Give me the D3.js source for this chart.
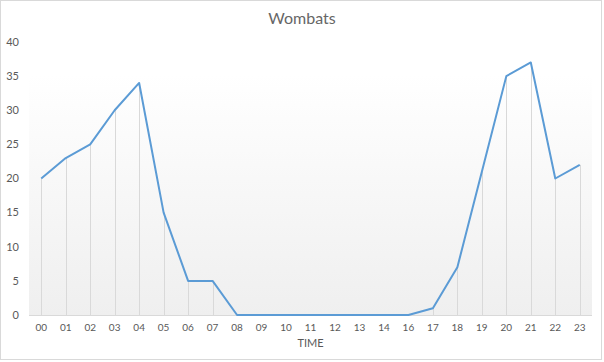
<!DOCTYPE html>
<html>
<head>
<meta charset="utf-8">
<script src="https://cdn.jsdelivr.net/npm/d3@7"></script>
<style>
    html, body { margin: 0; padding: 0; background: #fff; }
    svg { display: block; font-family: Lato, "Open Sans", sans-serif; }
</style>
</head>
<body>
<div id="chart"></div>
<script>
// Data (hour 15 is missing in the source)
const hours = ["00","01","02","03","04","05","06","07","08","09","10","11","12","13","14","16","17","18","19","20","21","22","23"];
const wombats = [20, 23, 25, 30, 34, 15, 5, 5, 0, 0, 0, 0, 0, 0, 0, 0, 1, 7, 21, 35, 37, 20, 22];
const yTicks = [0, 5, 10, 15, 20, 25, 30, 35, 40];

const width = 604;
const height = 362;
const plot = { left: 29, right: 592, top: 42, bottom: 315 };

const svg = d3.select('#chart')
    .append('svg')
    .attr('width', width)
    .attr('height', height);

// chart border
svg.append('rect')
    .attr('x', 0.5).attr('y', 0.5)
    .attr('width', 601).attr('height', 359)
    .attr('fill', '#fff')
    .attr('stroke', '#d9d9d9');

const grad = svg.append('defs').append('linearGradient')
    .attr('id', 'plotGrad')
    .attr('x1', 0).attr('y1', 0).attr('x2', 0).attr('y2', 1);
grad.append('stop').attr('offset', '0%').attr('stop-color', '#ffffff');
grad.append('stop').attr('offset', '100%').attr('stop-color', '#efefef');

svg.append('rect')
    .attr('x', plot.left).attr('y', 74)
    .attr('width', plot.right - plot.left)
    .attr('height', plot.bottom - 74)
    .attr('fill', 'url(#plotGrad)');

const x = d3.scaleBand()
    .domain(hours)
    .range([plot.left, plot.right])
    .padding(0);

const y = d3.scaleLinear()
    .domain([0, 40])
    .range([plot.bottom, plot.top]);

const cx = d => x(d) + x.bandwidth() / 2;

// title
svg.append('text')
    .attr('x', 302).attr('y', 24)
    .attr('text-anchor', 'middle')
    .attr('font-size', '16px')
    .attr('fill', '#666')
    .text('Wombats');

// drop lines
svg.append('g')
    .selectAll('line')
    .data(hours)
    .enter()
    .append('line')
    .attr('x1', d => Math.round(cx(d)) + 0.5)
    .attr('x2', d => Math.round(cx(d)) + 0.5)
    .attr('y1', (d, i) => y(wombats[i]))
    .attr('y2', plot.bottom)
    .attr('stroke', '#d9d9d9')
    .attr('stroke-width', 1);

// baseline
svg.append('line')
    .attr('x1', plot.left).attr('x2', plot.right)
    .attr('y1', plot.bottom + 0.5).attr('y2', plot.bottom + 0.5)
    .attr('stroke', '#d9d9d9');

// y axis labels
svg.append('g')
    .selectAll('text')
    .data(yTicks)
    .enter()
    .append('text')
    .attr('x', 19)
    .attr('y', d => y(d))
    .attr('dy', '0.35em')
    .attr('text-anchor', 'end')
    .attr('font-size', '11px')
    .attr('fill', '#595959')
    .text(d => d);

// x axis labels
svg.append('g')
    .selectAll('text')
    .data(hours)
    .enter()
    .append('text')
    .attr('x', d => cx(d))
    .attr('y', 327)
    .attr('dy', '0.35em')
    .attr('text-anchor', 'middle')
    .attr('font-size', '10px')
    .attr('fill', '#595959')
    .text(d => d);

svg.append('text')
    .attr('x', (plot.left + plot.right) / 2)
    .attr('y', 343)
    .attr('dy', '0.35em')
    .attr('text-anchor', 'middle')
    .attr('font-size', '11px')
    .attr('fill', '#595959')
    .text('TIME');

// series line
const line = d3.line()
    .x((d, i) => cx(hours[i]))
    .y(d => y(d));

svg.append('path')
    .datum(wombats)
    .attr('d', line)
    .attr('fill', 'none')
    .attr('stroke', '#5b9bd5')
    .attr('stroke-width', 2)
    .attr('stroke-linejoin', 'round');
</script>
</body>
</html>
